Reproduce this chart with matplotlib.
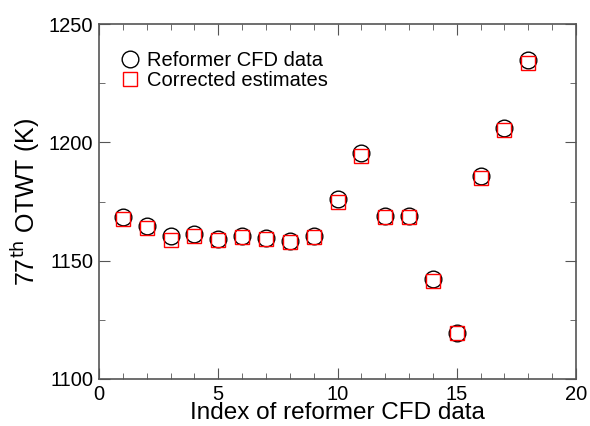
import numpy as np
import matplotlib
matplotlib.use("Agg")
import matplotlib.pyplot as plt
from matplotlib.ticker import MultipleLocator

plt.rcParams["font.family"] = ["Liberation Sans", "DejaVu Sans"]

# reformer CFD runs and the corrected estimates (K)
idx = np.arange(1, 19)
cfd = [1168.5, 1164.5, 1160.3, 1161.1, 1159.2, 1160.6, 1159.4, 1158.3, 1160.3,
       1176.0, 1195.4, 1169.0, 1169.0, 1142.3, 1119.5, 1185.6, 1206.2, 1234.8]
corrected = [1167.7, 1164.0, 1158.9, 1160.5, 1158.8, 1160.0, 1159.0, 1158.0, 1159.8,
             1175.0, 1194.4, 1168.5, 1168.3, 1141.4, 1119.3, 1184.9, 1205.3, 1233.4]

fig = plt.figure(figsize=(5.9, 4.26), dpi=100)
ax = fig.add_axes([99 / 590, 1 - 379 / 426, 477 / 590, 355 / 426])

ax.plot(idx, cfd, linestyle="none", marker="o", ms=12, mfc="none",
        mec="black", mew=1.0, label="Reformer CFD data")
ax.plot(idx, corrected, linestyle="none", marker="s", ms=10, mfc="none",
        mec="red", mew=1.0, label="Corrected estimates")

ax.set_xlim(0, 20)
ax.set_ylim(1100, 1250)
ax.xaxis.set_major_locator(MultipleLocator(5))
ax.xaxis.set_minor_locator(MultipleLocator(1))
ax.yaxis.set_major_locator(MultipleLocator(50))
ax.yaxis.set_minor_locator(MultipleLocator(25))
ax.tick_params(which="both", direction="in", top=True, right=True,
               labelsize=14.5, color="#555555", pad=4)
ax.tick_params(which="major", length=8)
ax.tick_params(which="minor", length=4)
for s in ax.spines.values():
    s.set_color("#555555")
    s.set_linewidth(1.2)

ax.set_xlabel("Index of reformer CFD data", fontsize=17.5, labelpad=-1)
ax.set_ylabel("77$^{\\mathrm{th}}$ OTWT (K)", fontsize=18, labelpad=4)

ax.legend(loc="upper left", bbox_to_anchor=(0, 0.975), frameon=False,
          fontsize=14.5, handletextpad=0.2, borderaxespad=0.5,
          labelspacing=0.05, handlelength=1.3)

fig.savefig("out.png", dpi=100)
